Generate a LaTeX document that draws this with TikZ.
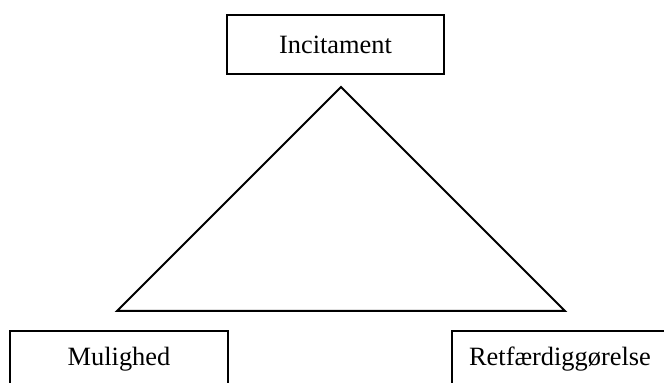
\documentclass[tikz,border=0pt]{standalone}
\usepackage{fontspec}
\setmainfont{Liberation Serif}
\begin{document}
\begin{tikzpicture}[x=0.5pt,y=-0.5pt]

    \tikzset{
      cornerbox/.style={
        draw,
        line width=1pt,
        inner sep=0pt,
        font=\fontsize{13.2}{15}\selectfont,
      },
    }
    \useasboundingbox (0,0) rectangle (664,383);
    \clip (0,0) rectangle (664,383);

	\node[cornerbox, minimum width=108.5pt, minimum height=29.5pt] (incitament) at (335.5,44.5) {Incitament};
	\node[cornerbox, minimum width=109pt, minimum height=28pt] (mulighed) at (119,359) {Mulighed};
	\node[cornerbox, minimum width=108pt, minimum height=28pt] (retfaerd) at (560,359) {Retfærdiggørelse};

	\coordinate (top) at (341,87);
	\coordinate (left) at (117,311);
	\coordinate (right) at (565,311);
	\draw[line width=1pt, line join=miter] (top)--(right)--(left)--cycle;

\end{tikzpicture}
\end{document}
